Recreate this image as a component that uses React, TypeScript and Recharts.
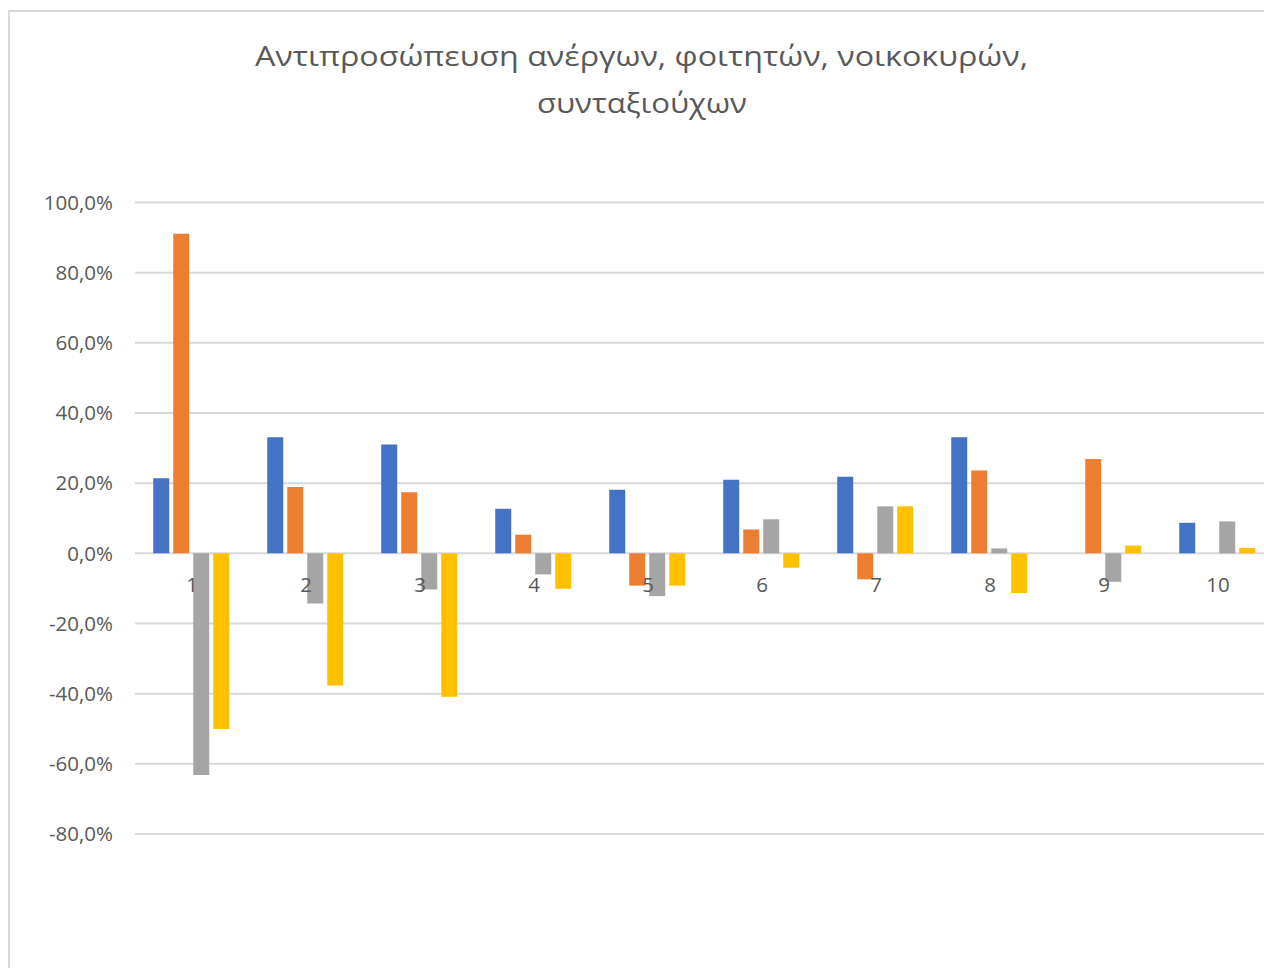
import React from "react";
import { BarChart, Bar, XAxis, YAxis, CartesianGrid } from "recharts";

const categories = ["1", "2", "3", "4", "5", "6", "7", "8", "9", "10"];
const unemployed = [21.4, 33.1, 31.0, 12.7, 18.1, 21.0, 21.8, 33.1, 0, 8.7];
const students = [91.1, 18.9, 17.4, 5.3, -9.2, 6.8, -7.4, 23.6, 26.9, 0];
const households = [-63.2, -14.3, -10.3, -6.0, -12.2, 9.7, 13.4, 1.4, -8.1, 9.1];
const pensioners = [-50.1, -37.7, -40.9, -10.1, -9.2, -4.1, 13.4, -11.3, 2.2, 1.5];
const yTicks = [-80, -60, -40, -20, 0, 20, 40, 60, 80, 100];
const titleLines = ["Αντιπροσώπευση ανέργων, φοιτητών, νοικοκυρών,", "συνταξιούχων"];

const Y_MIN = -80;
const Y_MAX = 100;
const MARGIN_TOP = 202.5;
const PLOT_H = 631.5;
const X_AXIS_H = 30;
const Y_AXIS_W = 135;
const PLOT_W = 1140;

const data = categories.map((c, i) => ({
  name: c,
  a: unemployed[i],
  b: students[i],
  c: households[i],
  d: pensioners[i],
}));

const FONT = "'Open Sans', 'Noto Sans', sans-serif";
const TEXT = "#595959";
const TICK_FS = 20.5;

const fmt = (v: number) => v.toFixed(1).replace(".", ",") + "%";

const XTick = (props: any) => {
  const { x, y, payload } = props;
  const zeroY = y - (PLOT_H * (0 - Y_MIN)) / (Y_MAX - Y_MIN);
  return (
    <text x={x} y={zeroY} dy={39} textAnchor="middle" fill={TEXT} fontSize={TICK_FS} fontFamily={FONT}>
      {payload.value}
    </text>
  );
};

export default function App() {
  return (
    <div style={{ position: "relative", width: 1264, height: 968, overflow: "hidden", background: "#fff" }}>
      <style>{`body{margin:0;overflow:hidden;}`}</style>
      <div
        style={{
          position: "absolute",
          left: 8,
          top: 10,
          width: 1400,
          height: 1100,
          borderLeft: "2.5px solid #d9d9d9",
          borderTop: "2.5px solid #d9d9d9",
          boxSizing: "border-box",
        }}
      />
      <svg style={{ position: "absolute", left: 0, top: 0 }} width={1264} height={140}>
        <text x={641.5} y={66} textAnchor="middle" fill={TEXT} fontSize={28} fontFamily={FONT} textLength={773} lengthAdjust="spacingAndGlyphs">
          {titleLines[0]}
        </text>
        <text x={642} y={113} textAnchor="middle" fill={TEXT} fontSize={28} fontFamily={FONT} textLength={210} lengthAdjust="spacingAndGlyphs">
          {titleLines[1]}
        </text>
      </svg>
      <div style={{ position: "absolute", left: 0, top: 0 }}>
        <BarChart
          width={Y_AXIS_W + PLOT_W}
          height={MARGIN_TOP + PLOT_H + X_AXIS_H}
          data={data}
          margin={{ top: MARGIN_TOP, right: 0, bottom: 0, left: 0 }}
          barCategoryGap="16%"
          barGap={4}
        >
          <CartesianGrid vertical={false} stroke="#d9d9d9" strokeWidth={2} />
          <XAxis
            dataKey="name"
            axisLine={false}
            tickLine={false}
            tickSize={0}
            tickMargin={0}
            height={X_AXIS_H}
            interval={0}
            tick={<XTick />}
          />
          <YAxis
            domain={[Y_MIN, Y_MAX]}
            ticks={yTicks}
            interval={0}
            width={Y_AXIS_W}
            axisLine={false}
            tickLine={false}
            tickSize={0}
            tickMargin={22}
            tickFormatter={fmt}
            tick={{ fill: TEXT, fontSize: TICK_FS, fontFamily: FONT }}
            allowDataOverflow
          />
          <Bar dataKey="a" fill="#4472C4" isAnimationActive={false} />
          <Bar dataKey="b" fill="#ED7D31" isAnimationActive={false} />
          <Bar dataKey="c" fill="#A5A5A5" isAnimationActive={false} />
          <Bar dataKey="d" fill="#FFC000" isAnimationActive={false} />
        </BarChart>
      </div>
    </div>
  );
}
